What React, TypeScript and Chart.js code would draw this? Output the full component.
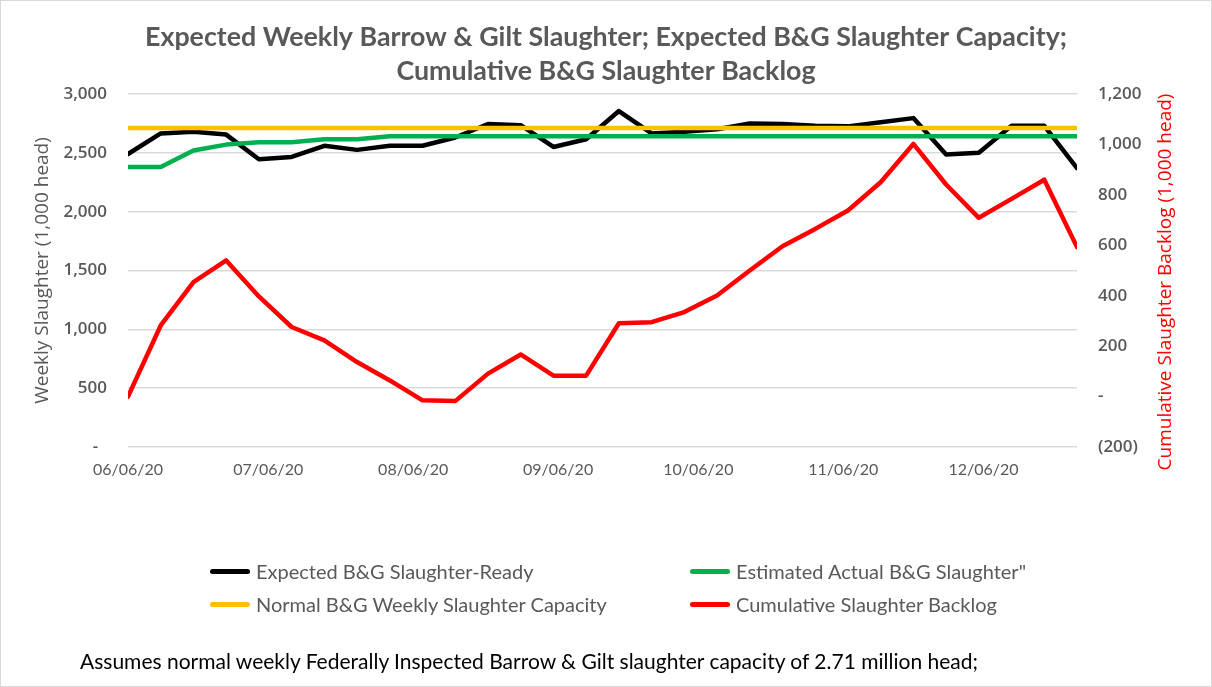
import React, { useEffect, useRef } from "react";
import { Chart, registerables } from "chart.js";

Chart.register(...registerables);

// ---------- data ----------
const weekDates = [
  "2020-06-06", "2020-06-13", "2020-06-20", "2020-06-27",
  "2020-07-04", "2020-07-11", "2020-07-18", "2020-07-25",
  "2020-08-01", "2020-08-08", "2020-08-15", "2020-08-22", "2020-08-29",
  "2020-09-05", "2020-09-12", "2020-09-19", "2020-09-26",
  "2020-10-03", "2020-10-10", "2020-10-17", "2020-10-24", "2020-10-31",
  "2020-11-07", "2020-11-14", "2020-11-21", "2020-11-28",
  "2020-12-05", "2020-12-12", "2020-12-19", "2020-12-26",
];

const expectedReady = [
  2490, 2665, 2680, 2655, 2445, 2465, 2560, 2525, 2560, 2560,
  2630, 2745, 2735, 2550, 2615, 2855, 2665, 2680, 2700, 2750,
  2745, 2730, 2725, 2760, 2795, 2485, 2500, 2730, 2730, 2370,
];

const estimatedActual = [
  2380, 2380, 2520, 2570, 2590, 2590, 2615, 2615, 2640, 2640,
  2640, 2640, 2640, 2640, 2640, 2640, 2640, 2640, 2640, 2640,
  2640, 2640, 2640, 2640, 2640, 2640, 2640, 2640, 2640, 2640,
];

const normalCapacity = [
  2710, 2710, 2710, 2710, 2710, 2710, 2710, 2710, 2710, 2710,
  2710, 2710, 2710, 2710, 2710, 2710, 2710, 2710, 2710, 2710,
  2710, 2710, 2710, 2710, 2710, 2710, 2710, 2710, 2710, 2710,
];

const cumulativeBacklog = [
  0, 282, 454, 540, 397, 276, 223, 137, 64, -15,
  -18, 91, 167, 83, 83, 291, 295, 335, 401, 500,
  596, 665, 738, 850, 1002, 841, 709, 784, 860, 593,
];

const monthTickDates = [
  "2020-06-06", "2020-07-06", "2020-08-06", "2020-09-06",
  "2020-10-06", "2020-11-06", "2020-12-06",
];
const monthTickLabels = [
  "06/06/20", "07/06/20", "08/06/20", "09/06/20",
  "10/06/20", "11/06/20", "12/06/20",
];

const seriesNames = [
  "Expected B&G Slaughter-Ready",
  "Estimated Actual B&G Slaughter\"",
  "Normal B&G Weekly Slaughter Capacity",
  "Cumulative Slaughter Backlog",
];
const seriesColors = ["#000000", "#00B050", "#FFC000", "#FF0000"];

const titleLines = [
  "Expected Weekly Barrow & Gilt Slaughter; Expected B&G Slaughter Capacity;",
  "Cumulative B&G Slaughter Backlog",
];
const leftAxisTitle = "Weekly Slaughter (1,000 head)";
const rightAxisTitle = "Cumulative Slaughter Backlog (1,000 head)";
const footnote =
  "Assumes normal weekly Federally Inspected Barrow & Gilt slaughter capacity of 2.71 million head;";

// ---------- helpers ----------
const DAY_MS = 86400000;
const toDay = (d: string) => (Date.parse(d) - Date.parse(weekDates[0])) / DAY_MS;
const toPoints = (vals: number[]) => weekDates.map((d, i) => ({ x: toDay(d), y: vals[i] }));

const GRAY = "#595959";

const fmtLeft = (v: number) => (v === 0 ? "-  " : v.toLocaleString("en-US"));
const fmtRight = (v: number) =>
  v === 0 ? "-" : v < 0 ? `(${Math.abs(v).toLocaleString("en-US")})` : v.toLocaleString("en-US");

const rightTitlePlugin = {
  id: "rightTitle",
  afterDraw(chart: any) {
    const { ctx } = chart;
    const s = chart.scales.y1;
    ctx.save();
    ctx.translate(s.right - 46, 282);
    ctx.rotate(-Math.PI / 2);
    ctx.font = '19px "Open Sans"';
    ctx.fillStyle = "#FF0000";
    ctx.textAlign = "center";
    ctx.textBaseline = "middle";
    ctx.fillText(rightAxisTitle, 0, 0);
    ctx.restore();
  },
};

export default function App() {
  const canvasRef = useRef<HTMLCanvasElement | null>(null);

  useEffect(() => {
    if (!canvasRef.current) return;
    const seriesValues = [expectedReady, estimatedActual, normalCapacity, cumulativeBacklog];
    const drawOrder = [3, 2, 1, 0];
    const chart = new Chart(canvasRef.current, {
      type: "line",
      data: {
        datasets: seriesValues.map((vals, i) => ({
          label: seriesNames[i],
          data: toPoints(vals),
          borderColor: seriesColors[i],
          backgroundColor: seriesColors[i],
          borderWidth: 4.5,
          pointRadius: 0,
          tension: 0,
          order: drawOrder[i],
          yAxisID: i === 3 ? "y1" : "y",
        })),
      },
      options: {
        responsive: false,
        maintainAspectRatio: false,
        animation: false,
        layout: { padding: 0 },
        elements: { line: { borderCapStyle: "round", borderJoinStyle: "round" } },
        plugins: {
          legend: { display: false },
          tooltip: { enabled: false },
          title: {
            display: true,
            text: titleLines,
            color: GRAY,
            font: { family: "Lato", size: 26.8, weight: "bold", lineHeight: 34 / 26.8 },
            padding: { top: 20, bottom: 6 },
          },
        },
        scales: {
          x: {
            type: "linear",
            min: 0,
            max: toDay(weekDates[weekDates.length - 1]),
            grid: { display: false, drawTicks: false },
            border: { display: false },
            afterBuildTicks: (s: any) => {
              s.ticks = monthTickDates.map((d) => ({ value: toDay(d) }));
            },
            ticks: {
              autoSkip: false,
              maxRotation: 0,
              color: GRAY,
              font: { family: "Lato", size: 16 },
              padding: 13,
              callback: (_v: any, i: number) => monthTickLabels[i],
            },
            afterFit: (s: any) => {
              s.height = 240;
            },
          },
          y: {
            position: "left",
            min: 0,
            max: 3000,
            grid: { color: "#d9d9d9", lineWidth: 1.5, drawTicks: false },
            border: { display: false },
            ticks: {
              stepSize: 500,
              color: GRAY,
              font: { family: "Open Sans", size: 17, weight: "600" },
              padding: 21,
              callback: (v: any) => fmtLeft(Number(v)),
            },
            title: {
              display: true,
              text: leftAxisTitle,
              color: GRAY,
              font: { family: "Open Sans", size: 19 },
              padding: { top: 31, bottom: 0 },
            },
            afterFit: (s: any) => {
              s.width = 128;
            },
          },
          y1: {
            position: "right",
            min: -200,
            max: 1200,
            grid: { display: false, drawTicks: false, drawOnChartArea: false },
            border: { display: false },
            ticks: {
              stepSize: 200,
              color: GRAY,
              font: { family: "Open Sans", size: 17, weight: "600" },
              padding: 21,
              callback: (v: any) => fmtRight(Number(v)),
            },
            afterFit: (s: any) => {
              s.width = 135;
            },
          },
        },
      } as any,
      plugins: [rightTitlePlugin],
    });
    return () => chart.destroy();
  }, []);

  const legendPos = [
    { left: 210, top: 571 },
    { left: 690, top: 571 },
    { left: 210, top: 604 },
    { left: 690, top: 604 },
  ];

  return (
    <div
      style={{
        position: "fixed",
        left: 0,
        top: 0,
        width: 1212,
        height: 687,
        background: "#ffffff",
        overflow: "hidden",
      }}
    >
      <canvas ref={canvasRef} width={1212} height={687} style={{ display: "block" }} />
      {seriesNames.map((name, i) => (
        <div
          key={name}
          style={{
            position: "absolute",
            left: legendPos[i].left,
            top: legendPos[i].top - 15,
            height: 30,
            display: "flex",
            alignItems: "center",
            whiteSpace: "nowrap",
            fontFamily: "Lato",
            fontSize: 20,
            color: GRAY,
          }}
        >
          <span
            style={{
              display: "inline-block",
              width: 40,
              height: 5,
              borderRadius: 2.5,
              background: seriesColors[i],
              marginRight: 6,
            }}
          />
          <span>{name}</span>
        </div>
      ))}
      <div
        style={{
          position: "absolute",
          left: 80,
          top: 645,
          height: 30,
          display: "flex",
          alignItems: "center",
          whiteSpace: "nowrap",
          fontFamily: "Lato",
          fontSize: 21,
          color: "#000000",
        }}
      >
        {footnote}
      </div>
      <div
        style={{
          position: "absolute",
          inset: 0,
          border: "1px solid #d9d9d9",
          boxSizing: "border-box",
          pointerEvents: "none",
        }}
      />
    </div>
  );
}
